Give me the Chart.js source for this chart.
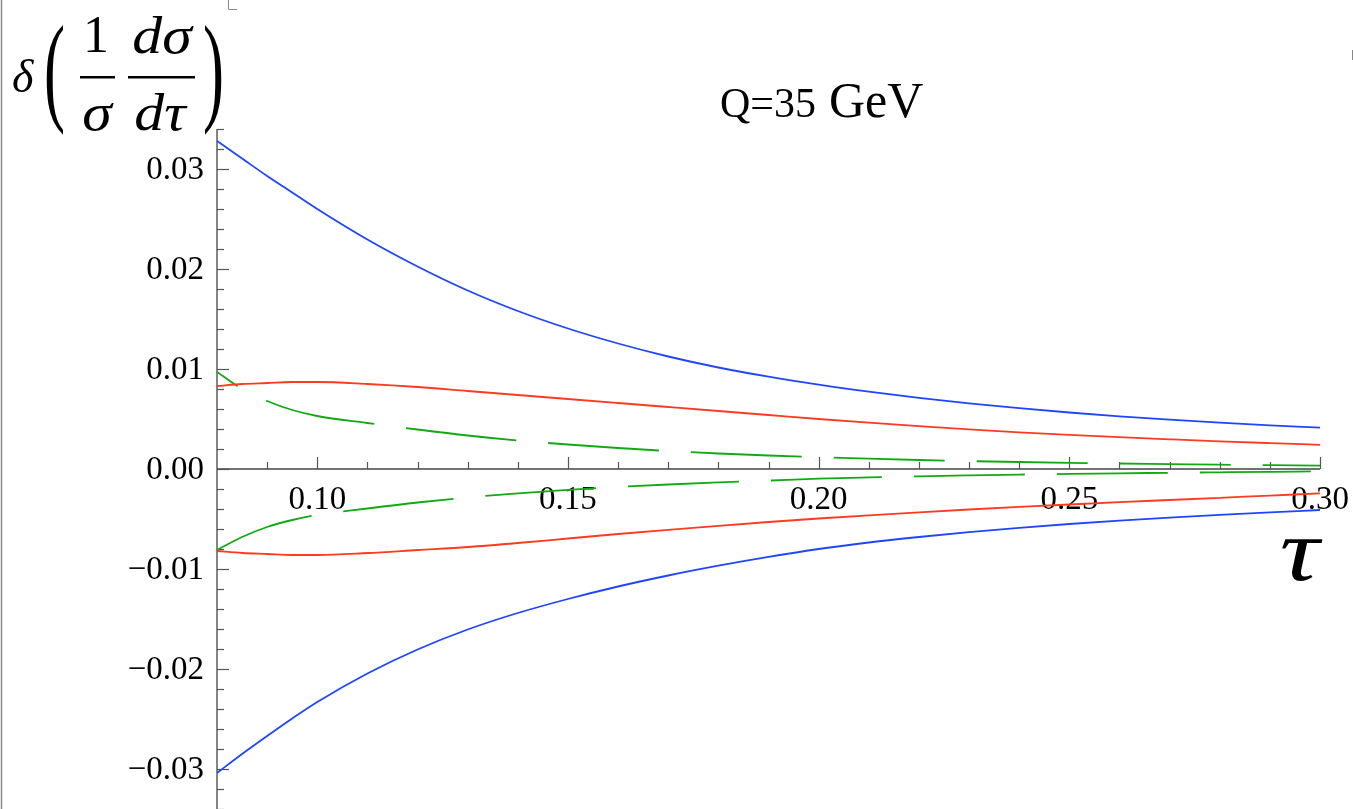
<!DOCTYPE html>
<html>
<head>
<meta charset="utf-8">
<script src="https://cdn.jsdelivr.net/npm/chart.js@4.4.1/dist/chart.umd.min.js"></script>
<style>
html,body{margin:0;padding:0;background:#fff;overflow:hidden;}
#wrap{position:relative;width:1353px;height:809px;}
canvas{display:block;}
.fontprobe{position:absolute;left:-9999px;top:0;font-family:"Liberation Serif";}
</style>
</head>
<body>
<span class="fontprobe">0.03 Q=35 GeV</span><span class="fontprobe" style="font-style:italic">δσdτ</span>
<div id="wrap"><canvas id="c" width="1353" height="809"></canvas></div>
<script>
// ---- data ----
const tau = [0.08, 0.085, 0.09, 0.095, 0.10, 0.11, 0.12, 0.13, 0.14, 0.15, 0.16, 0.17, 0.18, 0.19, 0.20, 0.21, 0.22, 0.23, 0.24, 0.25, 0.26, 0.27, 0.28, 0.29, 0.30];
const blueUpper = [0.0328, 0.03105, 0.0293, 0.02765, 0.0260, 0.02295, 0.02025, 0.01785, 0.0158, 0.01405, 0.01255, 0.01125, 0.01015, 0.00923, 0.00843, 0.00773, 0.00711, 0.00656, 0.00608, 0.00565, 0.00527, 0.00494, 0.00464, 0.00437, 0.00413];
const redUpper = [0.0083, 0.0085, 0.0086, 0.0087, 0.0087, 0.0085, 0.0082, 0.0078, 0.0074, 0.0070, 0.0066, 0.0062, 0.0058, 0.0054, 0.0050, 0.00463, 0.00428, 0.00396, 0.00367, 0.00341, 0.00318, 0.00297, 0.00277, 0.00259, 0.00242];
const greenUpper = [0.0097, 0.0080, 0.0068, 0.0059, 0.0053, 0.0046, 0.00395, 0.00335, 0.00285, 0.00245, 0.0021, 0.0018, 0.00155, 0.00135, 0.00118, 0.00103, 0.0009, 0.00079, 0.0007, 0.00062, 0.00055, 0.00049, 0.00043, 0.00038, 0.00033];
const blueLower = [-0.0304, -0.0285, -0.0267, -0.02495, -0.0233, -0.02045, -0.01805, -0.01605, -0.0144, -0.0130, -0.01175, -0.01065, -0.00967, -0.00879, -0.0080, -0.00735, -0.0068, -0.00631, -0.00588, -0.0055, -0.00516, -0.00486, -0.00458, -0.00433, -0.0041];
const redLower = [-0.0082, -0.0084, -0.0085, -0.0086, -0.0086, -0.0084, -0.0081, -0.0078, -0.0074, -0.00695, -0.0065, -0.00608, -0.00568, -0.0053, -0.00495, -0.00463, -0.00433, -0.00405, -0.00379, -0.00355, -0.00332, -0.0031, -0.00288, -0.00266, -0.00244];
const greenLower = [-0.0081, -0.0068, -0.0058, -0.0051, -0.0046, -0.00395, -0.00335, -0.00285, -0.00243, -0.00208, -0.00179, -0.00155, -0.00134, -0.00116, -0.00097, -0.00084, -0.00073, -0.00064, -0.00056, -0.00049, -0.00043, -0.00038, -0.00033, -0.00028, -0.00024];

const xMajorTicks = [0.10, 0.15, 0.20, 0.25, 0.30];
const xTickLabels = ['0.10', '0.15', '0.20', '0.25', '0.30'];
const yMajorTicks = [-0.03, -0.02, -0.01, 0.00, 0.01, 0.02, 0.03];
const yTickLabels = ['\u22120.03', '\u22120.02', '\u22120.01', '0.00', '0.01', '0.02', '0.03'];
const titleMain = 'Q=35';
const titleUnit = 'GeV';
const xAxisTitle = '\u03C4';

const X_MIN = 0.08, X_MAX = 0.30, Y_MIN = -0.034, Y_MAX = 0.034;

function pts(ys){ return tau.map((t,i)=>({x:t, y:ys[i]})); }

const BLUE = '#1f45ff', RED = '#ff3a1f', GREEN = '#12aa12';
const SERIF = '"Liberation Serif", "Times New Roman", Times, "DejaVu Serif", serif';

const mathAxes = {
  id: 'mathAxes',
  beforeDatasetsDraw(chart){
    const {ctx, chartArea:a, scales:{x, y}} = chart;
    const y0 = y.getPixelForValue(0);
    const xl = a.left;
    ctx.save();
    ctx.strokeStyle = '#444';
    ctx.lineWidth = 1.3;
    ctx.beginPath();
    ctx.moveTo(xl, a.top); ctx.lineTo(xl, a.bottom);
    ctx.moveTo(xl, y0); ctx.lineTo(a.right, y0);
    ctx.stroke();
    ctx.strokeStyle = '#555';
    ctx.lineWidth = 1.2;
    for (let k = 9; k <= 30; k++) {
      const v = k / 100;
      const major = xMajorTicks.some(m => Math.abs(m - v) < 1e-9);
      const px = Math.round(x.getPixelForValue(v)) + 0.5;
      ctx.beginPath();
      ctx.moveTo(px, y0); ctx.lineTo(px, y0 - (major ? 12 : 7));
      ctx.stroke();
    }
    for (let k = -17; k <= 17; k++) {
      const v = k * 0.002;
      const major = yMajorTicks.some(m => Math.abs(m - v) < 1e-9);
      const py = Math.round(y.getPixelForValue(v)) + 0.5;
      ctx.beginPath();
      ctx.moveTo(xl, py); ctx.lineTo(xl + (major ? 12 : 7), py);
      ctx.stroke();
    }
    ctx.fillStyle = '#000';
    ctx.font = '33px ' + SERIF;
    ctx.textAlign = 'right';
    ctx.textBaseline = 'middle';
    yMajorTicks.forEach((v, i) => {
      ctx.fillText(yTickLabels[i], xl - 13, y.getPixelForValue(v) + 1);
    });
    ctx.textAlign = 'center';
    xMajorTicks.forEach((v, i) => {
      ctx.fillText(xTickLabels[i], x.getPixelForValue(v), y0 + 31);
    });
    ctx.restore();
  },
  afterDraw(chart){
    const {ctx} = chart;
    ctx.save();
    ctx.fillStyle = '#000';
    ctx.textBaseline = 'alphabetic';
    ctx.textAlign = 'left';
    ctx.font = '42px ' + SERIF;
    ctx.fillText(titleMain, 720, 117);
    ctx.font = '50px ' + SERIF;
    ctx.fillText(titleUnit, 829, 117);
    // tau axis label, widened like the TeX glyph
    ctx.font = 'italic 88px ' + SERIF;
    ctx.textAlign = 'right';
    ctx.save(); ctx.translate(1319, 580); ctx.scale(1.25, 1); ctx.fillText(xAxisTitle, 0, 0); ctx.restore();
    // y axis label
    ctx.textAlign = 'left';
    ctx.font = 'italic 46px ' + SERIF;
    ctx.fillText('\u03B4', 12, 92);
    ctx.font = '60px ' + SERIF;
    ctx.save(); ctx.translate(44, 109); ctx.scale(1.05, 2.0); ctx.fillText('(', 0, 0); ctx.restore();
    ctx.save(); ctx.translate(203, 109); ctx.scale(1.05, 2.0); ctx.fillText(')', 0, 0); ctx.restore();
    ctx.textAlign = 'center';
    ctx.font = '52px ' + SERIF;
    ctx.fillText('1', 96, 52);
    ctx.font = 'italic 52px ' + SERIF;
    ctx.save(); ctx.translate(97, 130); ctx.scale(1.15, 1); ctx.fillText('\u03C3', 0, 0); ctx.restore();
    ctx.save(); ctx.translate(162, 53); ctx.scale(1.15, 1); ctx.fillText('d\u03C3', 0, 0); ctx.restore();
    ctx.save(); ctx.translate(160, 130); ctx.scale(1.15, 1); ctx.fillText('d\u03C4', 0, 0); ctx.restore();
    ctx.fillRect(80, 76, 35, 2.5);
    ctx.fillRect(128, 76, 67, 2.5);
    // frame artefacts of the source image
    ctx.strokeStyle = '#888';
    ctx.lineWidth = 1.5;
    ctx.beginPath();
    ctx.moveTo(1.5, 0); ctx.lineTo(1.5, 809);
    ctx.stroke();
    ctx.lineWidth = 1;
    ctx.beginPath();
    ctx.moveTo(228.5, 0); ctx.lineTo(228.5, 9.5); ctx.lineTo(237, 9.5);
    ctx.moveTo(1352.5, 50); ctx.lineTo(1352.5, 60);
    ctx.stroke();
    ctx.restore();
  }
};

const common = { pointRadius: 0, borderWidth: 1.8, fill: false, cubicInterpolationMode: 'monotone' };

function build(){
  new Chart(document.getElementById('c'), {
    type: 'line',
    data: {
      datasets: [
        Object.assign({ label: 'blue upper', data: pts(blueUpper), borderColor: BLUE }, common),
        Object.assign({ label: 'blue lower', data: pts(blueLower), borderColor: BLUE }, common),
        Object.assign({ label: 'red upper', data: pts(redUpper), borderColor: RED }, common),
        Object.assign({ label: 'red lower', data: pts(redLower), borderColor: RED }, common),
        Object.assign({ label: 'green upper', data: pts(greenUpper), borderColor: GREEN, borderDash: [111, 32], borderDashOffset: 86 }, common),
        Object.assign({ label: 'green lower', data: pts(greenLower), borderColor: GREEN, borderDash: [111, 32], borderDashOffset: 10 }, common)
      ]
    },
    options: {
      responsive: false,
      devicePixelRatio: 1,
      animation: false,
      layout: { padding: { left: 217, right: 33, top: 129, bottom: 0 } },
      plugins: { legend: { display: false }, tooltip: { enabled: false }, title: { display: false } },
      scales: {
        x: { type: 'linear', min: X_MIN, max: X_MAX, display: false },
        y: { type: 'linear', min: Y_MIN, max: Y_MAX, display: false }
      }
    },
    plugins: [mathAxes]
  });
}

Promise.all([
  document.fonts.load('33px "Liberation Serif"'),
  document.fonts.load('italic 52px "Liberation Serif"')
]).then(build, build);
</script>
</body>
</html>
